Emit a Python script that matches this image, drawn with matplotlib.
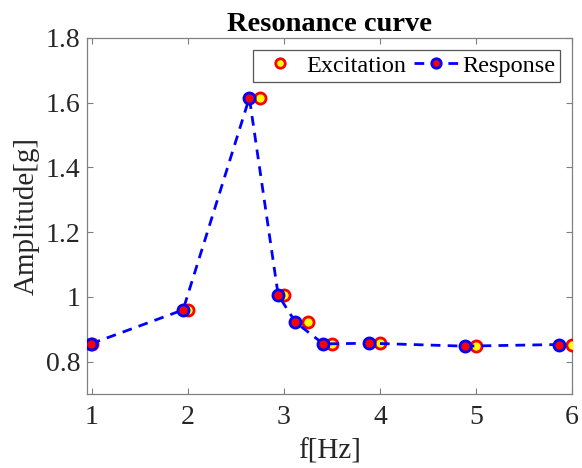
import numpy as np
import matplotlib
matplotlib.use('Agg')
import matplotlib.pyplot as plt

plt.rcParams['font.family'] = ['Liberation Serif', 'DejaVu Serif']
plt.rcParams['mathtext.fontset'] = 'stix'

# excitation frequencies / amplitudes
f_exc = [1.0, 2.0, 2.75, 3.0, 3.25, 3.5, 4.0, 5.0, 6.0]
a_exc = [0.855, 0.960, 1.615, 1.006, 0.922, 0.855, 0.857, 0.848, 0.853]

# response frequencies / amplitudes
f_resp = [0.99, 1.95, 2.64, 2.94, 3.12, 3.41, 3.89, 4.88, 5.86]
a_resp = [0.855, 0.960, 1.615, 1.006, 0.922, 0.855, 0.857, 0.848, 0.853]

xticks = [1, 2, 3, 4, 5, 6]
yticks = [0.8, 1.0, 1.2, 1.4, 1.6, 1.8]
ytick_labels = ['0.8', '1', '1.2', '1.4', '1.6', '1.8']

fig = plt.figure(figsize=(5.82, 4.68), dpi=100)
ax = fig.add_axes([0.1495, 0.158, 0.8335, 0.761])

ax.plot(f_exc, a_exc, linestyle='none', marker='o', markersize=8,
        markerfacecolor='yellow', markeredgecolor='red', markeredgewidth=2,
        label='Excitation', zorder=3)
ax.plot(f_resp, a_resp, linestyle='--', color='blue', linewidth=2,
        dashes=(3.5, 2.6), marker='o', markersize=8,
        markerfacecolor='red', markeredgecolor='blue', markeredgewidth=2,
        label='Response', zorder=4)

ax.set_xlim(0.95, 6)
ax.set_ylim(0.7, 1.8)
ax.set_xticks(xticks)
ax.set_yticks(yticks)
ax.set_yticklabels(ytick_labels)

ax.tick_params(direction='in', top=True, right=True, length=4, width=0.8,
               color='#808080', labelsize=20, labelcolor='#262626')
ax.tick_params(axis='x', pad=8)
ax.tick_params(axis='y', pad=5)
for s in ax.spines.values():
    s.set_color('#808080')
    s.set_linewidth(0.9)

ax.set_xlabel('f[Hz]', fontsize=21, color='#262626', labelpad=6)
ax.set_ylabel('Amplitude[g]', fontsize=21, color='#262626', labelpad=4)
ax.set_title('Resonance curve', fontsize=20.5, fontweight='bold', pad=5)

leg = ax.legend(loc='upper right', ncol=2, fontsize=17.5, frameon=True,
                fancybox=False, edgecolor='#555555', framealpha=1,
                handlelength=1.8, columnspacing=0.3, handletextpad=0.2,
                borderpad=0.2, borderaxespad=0, markerscale=0.85,
                bbox_to_anchor=(0.976, 0.966))
leg.get_frame().set_linewidth(0.9)

fig.savefig('out.png', dpi=100)
